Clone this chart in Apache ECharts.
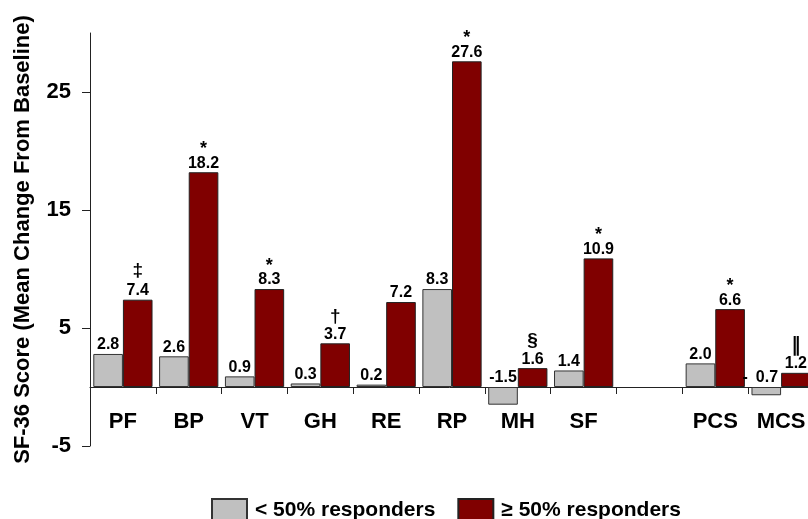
<!DOCTYPE html>
<html>
<head>
<meta charset="utf-8">
<script src="https://cdn.jsdelivr.net/npm/echarts@6/dist/echarts.min.js"></script>
<style>
  html, body { margin: 0; padding: 0; background: #fff; }
  #chart { width: 808px; height: 519px; }
</style>
</head>
<body>
<div id="chart"></div>
<script>
// SF-36 domains and summary scores (blank slot separates the summary scores)
const categories = ['PF', 'BP', 'VT', 'GH', 'RE', 'RP', 'MH', 'SF', '', 'PCS', 'MCS'];
const lowResponders = [2.8, 2.6, 0.9, 0.3, 0.2, 8.3, -1.5, 1.4, null, 2.0, -0.7];
const highResponders = [7.4, 18.2, 8.3, 3.7, 7.2, 27.6, 1.6, 10.9, null, 6.6, 1.2];
const significance = ['‡', '*', '*', '†', '', '*', '§', '*', '', '*', '‖'];
const yTicks = [-5, 5, 15, 25];
const seriesNames = ['< 50% responders', '≥ 50% responders'];
// categories whose negative label prints the minus sign set apart
const spacedMinus = ['MCS'];

const FONT = '"Liberation Sans", Arial, sans-serif';
const GRAY = '#c0c0c0';
const RED = '#800000';

// rich-text key for each significance mark
const markKey = { '*': 'ast', '†': 'dag', '‡': 'ddag', '§': 'sect', '‖': 'dbar' };

const lowData = lowResponders.map((v, i) => {
  if (v === null) return '-';
  if (v < 0 && spacedMinus.includes(categories[i])) {
    return {
      value: v,
      label: {
        formatter: p => '{m|-}{v|' + Math.abs(p.value).toFixed(1) + '}',
        offset: [-6, 0]
      }
    };
  }
  return v;
});

const highData = highResponders.map(v => (v === null ? '-' : v));

const valueRich = {
  v: { fontSize: 16, fontWeight: 'bold', color: '#000', fontFamily: FONT, lineHeight: 16 },
  m: { fontSize: 16, fontWeight: 'bold', color: '#000', fontFamily: FONT, lineHeight: 16, padding: [0, 8, 0, 0] },
  ast: { fontSize: 18, fontWeight: 'bold', color: '#000', fontFamily: FONT, lineHeight: 12 },
  dag: { fontSize: 19, fontWeight: 'bold', color: '#000', fontFamily: FONT, lineHeight: 20 },
  ddag: { fontSize: 19, fontWeight: 'bold', color: '#000', fontFamily: FONT, lineHeight: 24 },
  sect: { fontSize: 19, fontWeight: 'bold', color: '#000', fontFamily: FONT, lineHeight: 20 },
  dbar: { fontSize: 19, fontWeight: 'bold', color: '#000', fontFamily: 'DejaVu Sans, sans-serif', lineHeight: 20 }
};

const chart = echarts.init(document.getElementById('chart'), null, { renderer: 'canvas' });

chart.setOption({
  animation: false,
  backgroundColor: '#fff',
  textStyle: { fontFamily: FONT },
  grid: { left: 90, right: -6, top: 33, bottom: 73, containLabel: false, outerBoundsMode: 'none' },
  legend: {
    left: 211,
    top: 498,
    padding: 0,
    itemWidth: 35,
    itemHeight: 22,
    itemGap: 22,
    icon: 'rect',
    textStyle: { fontSize: 21, fontWeight: 'bold', color: '#000', fontFamily: FONT, padding: [0, 0, 0, 3] },
    data: seriesNames
  },
  xAxis: {
    type: 'category',
    data: categories,
    axisLine: { onZero: true, lineStyle: { color: '#222', width: 1 } },
    axisTick: { show: true, length: 7, lineStyle: { color: '#222' } },
    axisLabel: { fontSize: 22, fontWeight: 'bold', color: '#000', margin: -35, interval: 0 },
    splitLine: { show: false }
  },
  yAxis: {
    type: 'value',
    min: -5,
    max: 30,
    name: 'SF-36 Score (Mean Change From Baseline)',
    nameLocation: 'middle',
    nameRotate: 90,
    nameGap: 56,
    nameTextStyle: { fontSize: 22, fontWeight: 'bold', color: '#000' },
    axisLine: { show: true, lineStyle: { color: '#222', width: 1 } },
    axisTick: { show: true, length: 8, customValues: yTicks, lineStyle: { color: '#222' } },
    axisLabel: { fontSize: 22, fontWeight: 'bold', color: '#000', margin: 19, customValues: yTicks },
    splitLine: { show: false }
  },
  series: [
    {
      name: seriesNames[0],
      type: 'bar',
      data: lowData,
      barGap: '0%',
      barCategoryGap: '10%',
      itemStyle: { color: GRAY, borderColor: '#333', borderWidth: 1 },
      label: {
        show: true,
        position: 'top',
        distance: 1,
        formatter: p => '{v|' + Number(p.value).toFixed(1) + '}',
        rich: valueRich
      }
    },
    {
      name: seriesNames[1],
      type: 'bar',
      data: highData,
      barGap: '0%',
      barCategoryGap: '10%',
      itemStyle: { color: RED, borderColor: '#222', borderWidth: 1 },
      label: {
        show: true,
        position: 'top',
        distance: 1,
        formatter: p => {
          const mark = significance[p.dataIndex];
          const val = '{v|' + Number(p.value).toFixed(1) + '}';
          return mark ? '{' + markKey[mark] + '|' + mark + '}\n' + val : val;
        },
        rich: valueRich
      }
    }
  ]
});
</script>
</body>
</html>
